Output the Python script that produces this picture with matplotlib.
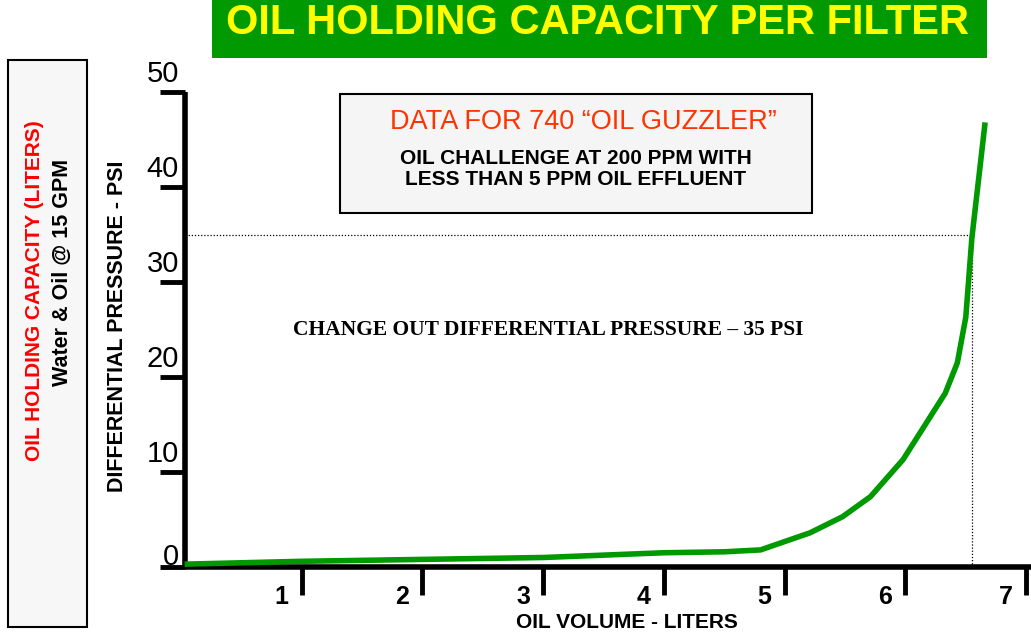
import matplotlib
matplotlib.use("Agg")
import matplotlib.pyplot as plt
from matplotlib.patches import Rectangle
from matplotlib import transforms

# curve (oil volume in liters, differential pressure in psi)
volume = [0.03, 1.0, 2.0, 3.0, 4.0, 4.5, 4.8, 5.21, 5.48, 5.71, 5.98, 6.33, 6.43, 6.50, 6.55, 6.66]
pressure = [0.3, 0.6, 0.8, 1.0, 1.5, 1.6, 1.8, 3.6, 5.3, 7.4, 11.3, 18.3, 21.5, 26.3, 34.6, 46.8]

x_ticks = [1, 2, 3, 4, 5, 6, 7]
y_ticks = [0, 10, 20, 30, 40, 50]
change_out_psi = 35
change_out_volume = 6.55

GREEN = "#009900"
W, H = 1031, 635

fig = plt.figure(figsize=(W / 100, H / 100), dpi=100)
fig.patch.set_facecolor("white")

sans = ["Liberation Sans", "DejaVu Sans"]


def fx(px):
    return px / W


def fy(py):
    return 1 - py / H


# plot area
ax = fig.add_axes([fx(185), fy(567), fx(1031) - fx(185), fy(92) - fy(567)])
ax.set_xlim(0.033, 7.04)
ax.set_ylim(0, 50)
for s in ["top", "right"]:
    ax.spines[s].set_visible(False)
for s in ["left", "bottom"]:
    ax.spines[s].set_linewidth(4)
    ax.spines[s].set_capstyle("butt")
ax.set_xticks(x_ticks)
ax.set_yticks(y_ticks)
ax.tick_params(axis="y", direction="out", length=18, width=3.5, labelleft=False)
ax.tick_params(axis="x", direction="out", length=20, width=3.5, labelbottom=False)

ax.plot(volume, pressure, color=GREEN, lw=4, solid_capstyle="butt", zorder=3, clip_on=False)

# change-out guide lines
ax.plot([0.033, change_out_volume], [change_out_psi, change_out_psi], color="black", lw=0.9, ls=(0, (1, 1.5)))
ax.plot([change_out_volume, change_out_volume], [0, change_out_psi], color="black", lw=0.9, ls=(0, (1, 1.5)))

# tick labels
ytr = transforms.blended_transform_factory(ax.transAxes, ax.transData)
for v in y_ticks:
    off = 10 if v == 0 else 18
    ax.annotate(str(v), xy=(0, v), xycoords=ytr, xytext=(-6, off), textcoords="offset pixels",
                ha="right", va="center", fontsize=21, family=sans)
xtr = transforms.blended_transform_factory(ax.transData, ax.transAxes)
for v in x_ticks:
    ax.annotate(str(v), xy=(v, 0), xycoords=xtr, xytext=(-20, -30), textcoords="offset pixels",
                ha="center", va="center", fontsize=18, fontweight="bold", family=sans)

ax.annotate("OIL VOLUME - LITERS", xy=(0.5, 0), xycoords="axes fraction", xytext=(627 - (185 + 846 / 2), -56),
            textcoords="offset pixels", ha="center", va="center", fontsize=15, fontweight="bold", family=sans)

fig.text(fx(118), fy(326), "DIFFERENTIAL PRESSURE - PSI", rotation=90, ha="center", va="center",
         fontsize=15.5, fontweight="bold", family=sans)

fig.text(fx(548), fy(330), "CHANGE OUT DIFFERENTIAL PRESSURE \u2013 35 PSI", ha="center", va="center",
         fontsize=15.5, fontweight="bold", family=["Liberation Serif", "DejaVu Serif"])

# title banner
fig.patches.append(Rectangle((fx(212), fy(58)), fx(987) - fx(212), fy(0) - fy(58), transform=fig.transFigure,
                             facecolor=GREEN, edgecolor="none", zorder=0))
fig.text(fx(598), fy(23), "OIL HOLDING CAPACITY PER FILTER", ha="center", va="center", color="#ffff00",
         fontsize=30, fontweight="bold", family=sans)

# left side box
fig.patches.append(Rectangle((fx(8), fy(627)), fx(87) - fx(8), fy(60) - fy(627), transform=fig.transFigure,
                             facecolor="#f7f7f7", edgecolor="black", lw=1.5, zorder=0))
fig.text(fx(35), fy(291), "OIL HOLDING CAPACITY (LITERS)", rotation=90, ha="center", va="center",
         color="#ff0000", fontsize=15, fontweight="bold", family=sans)
fig.text(fx(62), fy(272), "Water & Oil @ 15 GPM", rotation=90, ha="center", va="center",
         color="black", fontsize=15.5, fontweight="bold", family=sans)

# data box
fig.patches.append(Rectangle((fx(340), fy(213)), fx(812) - fx(340), fy(94) - fy(213), transform=fig.transFigure,
                             facecolor="#f5f5f5", edgecolor="black", lw=1.5, zorder=0))
fig.text(fx(583), fy(122), "DATA FOR 740 \u201cOIL GUZZLER\u201d", ha="center", va="center",
         color="#ff3300", fontsize=19.5, family=sans)
fig.text(fx(576), fy(158), "OIL CHALLENGE AT 200 PPM WITH", ha="center", va="center",
         fontsize=15, fontweight="bold", family=sans)
fig.text(fx(576), fy(180), "LESS THAN 5 PPM OIL EFFLUENT", ha="center", va="center",
         fontsize=15, fontweight="bold", family=sans)

fig.savefig("out.png", dpi=100)
